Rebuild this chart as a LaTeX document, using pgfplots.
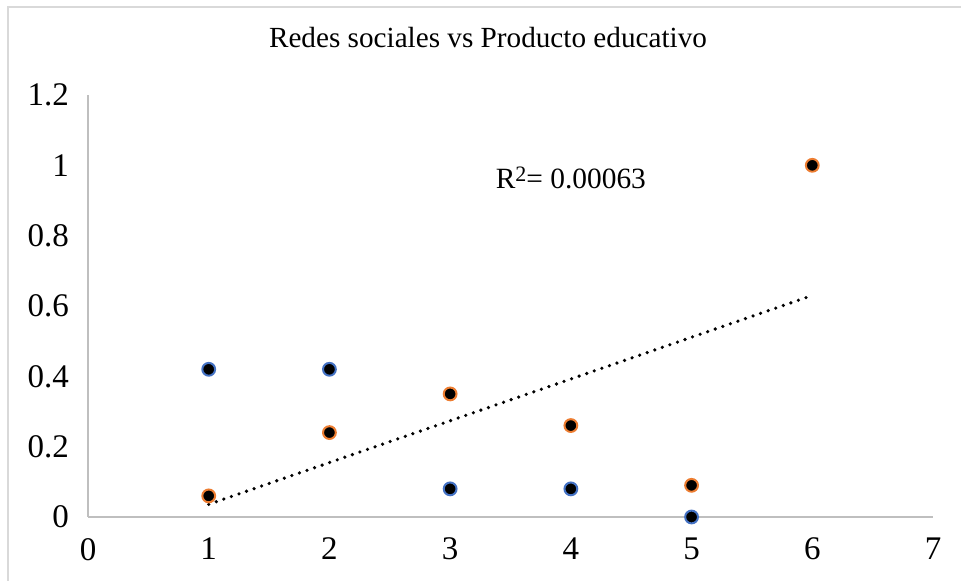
\documentclass[border=0pt]{standalone}
\usepackage{fontspec}
\setmainfont{Liberation Serif}
\usepackage{pgfplots}
\pgfplotsset{compat=1.18}
\definecolor{blueEdge}{HTML}{4472C4}
\definecolor{orangeEdge}{HTML}{ED7D31}
\definecolor{axisgray}{HTML}{BFBFBF}
\definecolor{framegray}{HTML}{D9D9D9}
\begin{document}
\begin{tikzpicture}
\clip (0,0) rectangle (480.5pt,290.5pt);
\draw[framegray, line width=0.8pt] (4pt,-10pt) -- (4pt,287pt) -- (490pt,287pt);
\node[font=\fontsize{14.6}{17}\selectfont] at (244pt,271.5pt) {Redes sociales vs Producto educativo};
\begin{axis}[
  at={(44pt,32pt)}, anchor=south west,
  width=422.5pt, height=211pt, scale only axis,
  xmin=0, xmax=7, ymin=0, ymax=1.2,
  axis x line*=bottom, axis y line*=left,
  axis line style={axisgray, line width=0.6pt},
  major tick length=0pt,
  xtick={0,1,2,3,4,5,6,7},
  ytick={0,0.2,0.4,0.6,0.8,1,1.2},
  yticklabels={0,0.2,0.4,0.6,0.8,1,1.2},
  tick label style={font=\fontsize{16.5}{19}\selectfont},
  xticklabel style={yshift=-7pt},
  yticklabel style={xshift=-6pt},
  /pgf/number format/assume math mode=true,
  clip=false,
]
\addplot[black, line width=1.8pt, line cap=round, dash pattern=on 0pt off 4pt] coordinates {(1,0.036) (6,0.63)};
\addplot[only marks, mark=*, mark size=3.2pt, mark options={draw=blueEdge, fill=black, line width=1pt}] coordinates {(1,0.42) (2,0.42) (3,0.08) (4,0.08) (5,0)};
\addplot[only marks, mark=*, mark size=3.2pt, mark options={draw=orangeEdge, fill=black, line width=1pt}] coordinates {(1,0.06) (2,0.24) (3,0.35) (4,0.26) (5,0.09) (6,1.0)};
\node[font=\fontsize{14.7}{17}\selectfont] at (axis cs:4.0,0.965) {R\raisebox{0.5ex}{\fontsize{11}{13}\selectfont 2}= 0.00063};
\end{axis}
\end{tikzpicture}
\end{document}
